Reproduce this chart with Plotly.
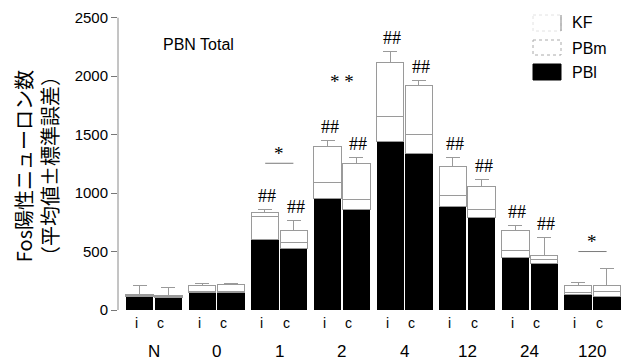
import plotly.graph_objects as go

# ---------------- data ----------------
groups = ["N", "0", "1", "2", "4", "12", "24", "120"]
bar_labels = ["i", "c"]

pbl_i = [115, 147, 600, 956, 1443, 885, 446, 133]
pbl_c = [109, 147, 526, 859, 1341, 790, 395, 115]
pbm_i = [12, 11, 200, 132, 211, 94, 63, 19]
pbm_c = [8, 11, 51, 84, 159, 68, 40, 40]
kf_i = [6, 51, 31, 312, 465, 251, 171, 58]
kf_c = [6, 57, 103, 307, 419, 199, 35, 55]
sem_i = [80, 20, 28, 49, 88, 74, 40, 28]
sem_c = [67, 14, 83, 54, 43, 63, 150, 143]

hash_i = ["", "", "##", "##", "##", "##", "##", ""]
hash_c = ["", "", "##", "##", "##", "##", "##", ""]

sig_groups = ["1", "2", "4", "120"]
sig_marks = ["*", "* *", "*", "*"]
sig_levels = [1255, 1870, 2618, 500]
sig_show_line = [True, False, True, True]

y_ticks = [0, 500, 1000, 1500, 2000, 2500]
series_names = ["KF", "PBm", "PBl"]
panel_title = "PBN Total"
y_title = "Fos陽性ニューロン数<br>（平均値±標準誤差）"

# ---------------- layout constants ----------------
# the page body has an 8px margin, so the figure is 8px smaller than the window
BODY = 8
W, H = 629 - BODY, 362 - BODY
ML, MR, MT, MB = 110, 5, 0, 52
PW, PH = W - ML - MR, H - MT - MB
OFF, BW = 0.23, 0.436
SANS = "Liberation Sans, Arial, sans-serif"
SERIF = "Liberation Serif, Times New Roman, serif"


def px(xp):
    """page pixel x -> paper x"""
    return (xp - BODY - ML) / PW


def py(yp):
    """page pixel y -> paper y"""
    return (H - MB - (yp - BODY)) / PH


n = len(groups)
x_pos = [g - OFF for g in range(n)] + [g + OFF for g in range(n)]
pbl = pbl_i + pbl_c
pbm = pbm_i + pbm_c
kf = kf_i + kf_c
sem = sem_i + sem_c
tot = [a + b + c for a, b, c in zip(pbl, pbm, kf)]

fig = go.Figure()
fig.add_bar(x=x_pos, y=pbl, width=BW, name="PBl",
            marker=dict(color="black", line=dict(width=0)))
fig.add_bar(x=x_pos, y=pbm, width=BW, name="PBm",
            marker=dict(color="white", line=dict(color="#9a9a9a", width=1)))
fig.add_bar(x=x_pos, y=kf, width=BW, name="KF",
            marker=dict(color="white", line=dict(color="#9a9a9a", width=1)),
            error_y=dict(type="data", array=sem, arrayminus=[0] * len(sem),
                         symmetric=False, color="#9a9a9a", thickness=1, width=7))

annotations = []
shapes = []

# ## marks over bars
hashes = hash_i + hash_c
for xv, t, s, h in zip(x_pos, tot, sem, hashes):
    if h:
        annotations.append(dict(x=xv, y=t + s, xref="x", yref="y", text=h,
                                showarrow=False, xshift=2, yshift=13.5,
                                yanchor="middle",
                                font=dict(family=SERIF, size=18, color="black")))

# significance lines between i and c
for gname, mark, lvl, show in zip(sig_groups, sig_marks, sig_levels, sig_show_line):
    g = groups.index(gname)
    if show:
        shapes.append(dict(type="line", xref="x", yref="y", x0=g - 0.225, x1=g + 0.225,
                           y0=lvl, y1=lvl, line=dict(color="#7a7a7a", width=1)))
    annotations.append(dict(x=g, y=lvl, xref="x", yref="y", text=mark,
                            showarrow=False, yshift=10, yanchor="middle",
                            font=dict(family=SERIF, size=19, color="black")))

# i / c labels and group labels
for g, name in enumerate(groups):
    for lab, dx in zip(bar_labels, [-0.28, 0.11]):
        annotations.append(dict(x=g + dx, y=0, xref="x", yref="paper", text=lab,
                                showarrow=False, yshift=-13, yanchor="middle",
                                font=dict(family=SANS, size=14, color="black")))
    annotations.append(dict(x=g, y=0, xref="x", yref="paper", text=name,
                            showarrow=False, yshift=-41.5, yanchor="middle",
                            font=dict(family=SANS, size=17, color="black")))

# panel title
annotations.append(dict(x=px(161), y=py(44), xref="paper", yref="paper",
                        text=panel_title, showarrow=False, xanchor="left",
                        yanchor="middle", font=dict(family=SANS, size=16, color="black")))

# y-axis title
annotations.append(dict(x=px(36), y=py(166), xref="paper", yref="paper",
                        text=y_title, textangle=-90, showarrow=False,
                        xanchor="center", yanchor="middle",
                        font=dict(family="Noto Sans CJK JP, sans-serif", size=20,
                                  color="black")))

# manual legend
leg_y = [22.5, 48, 72.5]
sw_x0, sw_x1 = 533, 561
shapes.append(dict(type="rect", xref="paper", yref="paper", x0=px(sw_x0), x1=px(sw_x1),
                   y0=py(15), y1=py(31), fillcolor="white",
                   line=dict(color="#e2e2e2", width=1, dash="dot")))
shapes.append(dict(type="line", xref="paper", yref="paper", x0=px(sw_x1), x1=px(sw_x1),
                   y0=py(15), y1=py(31), line=dict(color="#888888", width=1)))
shapes.append(dict(type="rect", xref="paper", yref="paper", x0=px(sw_x0), x1=px(sw_x1),
                   y0=py(40), y1=py(55), fillcolor="white",
                   line=dict(color="#aaaaaa", width=1, dash="dot")))
shapes.append(dict(type="rect", xref="paper", yref="paper", x0=px(sw_x0), x1=px(sw_x1),
                   y0=py(64), y1=py(80), fillcolor="black",
                   line=dict(color="black", width=1)))
for name, ly in zip(series_names, leg_y):
    annotations.append(dict(x=px(570), y=py(ly), xref="paper", yref="paper", text=name,
                            showarrow=False, xanchor="left", yanchor="middle",
                            font=dict(family=SANS, size=16, color="black")))

# y axis line
shapes.append(dict(type="line", xref="paper", yref="y", x0=0, x1=0, y0=0, y1=2500,
                   line=dict(color="#8a8a8a", width=1)))

fig.update_layout(
    template="none",
    width=W, height=H,
    margin=dict(l=ML, r=MR, t=MT, b=MB, pad=0),
    barmode="stack",
    showlegend=False,
    plot_bgcolor="white", paper_bgcolor="white",
    xaxis=dict(range=[-0.575, 7.503], showgrid=False, zeroline=False, showline=False,
               showticklabels=False, ticks="", automargin=False),
    yaxis=dict(range=[0, 2583], tickvals=y_ticks, ticktext=[str(v) for v in y_ticks],
               showgrid=False, zeroline=False, showline=False, ticks="outside",
               ticklen=6, tickwidth=1, tickcolor="#777777", automargin=False,
               tickfont=dict(family=SANS, size=15, color="black")),
    annotations=annotations,
    shapes=shapes,
)

fig.write_html("out.html")
